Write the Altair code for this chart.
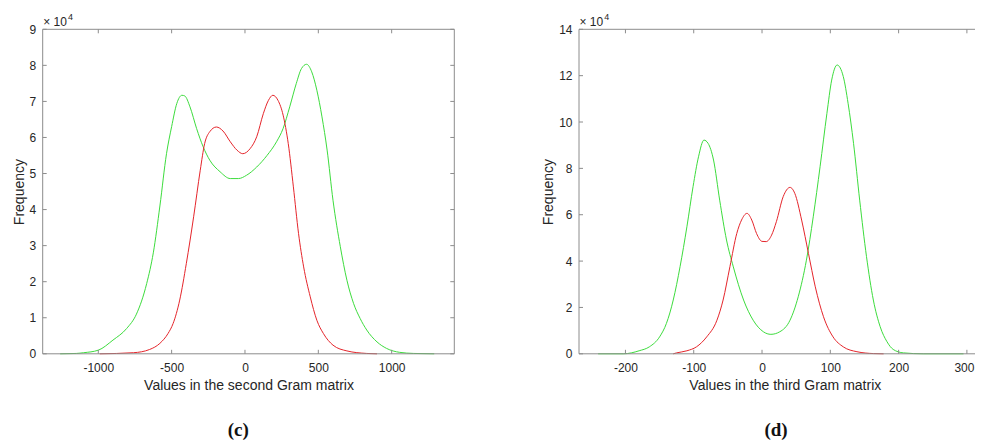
import altair as alt
import pandas as pd

# ---------------- data (frequency in units of 10^4) ----------------
# Panel (c): values in the second Gram matrix
c_green_x = [-1260, -1150, -1100, -1000, -900, -807, -740, -670, -625, -580, -535, -500, -465,
             -430, -410, -375, -330, -285, -240, -170, -100, -45, 10, 80, 150, 215, 260, 305,
             350, 385, 420, 455, 490, 525, 560, 600, 650, 695, 740, 785, 830, 900, 965, 1055,
             1150, 1290]
c_green_y = [0, 0.01, 0.03, 0.1, 0.38, 0.7, 1.1, 1.95, 2.8, 4.1, 5.55, 6.3, 6.94,
             7.17, 7.15, 6.85, 6.25, 5.74, 5.37, 5.05, 4.86, 4.86, 4.95, 5.18, 5.5, 5.88, 6.25, 6.85,
             7.5, 7.91, 8.03, 7.82, 7.31, 6.57, 5.65, 4.26, 2.97, 2.04, 1.4, 0.98, 0.66, 0.33, 0.15, 0.04,
             0.01, 0]
c_red_x = [-990, -760, -650, -580, -525, -490, -445, -400, -350, -305, -275, -240, -195, -150,
           -100, -55, -15, 35, 80, 125, 160, 190, 225, 260, 295, 330, 365, 400, 445, 490, 535,
           600, 695, 830, 900]
c_red_y = [0, 0.03, 0.12, 0.29, 0.56, 0.84, 1.49, 2.5, 3.8, 5.09, 5.83, 6.16, 6.29, 6.18,
           5.88, 5.65, 5.55, 5.69, 6.02, 6.66, 7.03, 7.17, 7.03, 6.62, 5.83, 4.63, 3.34, 2.41, 1.58, 0.93, 0.56,
           0.24, 0.08, 0.01, 0]

# Panel (d): values in the third Gram matrix
d_green_x = [-240, -203, -180, -165, -150, -140, -130, -120, -110, -101, -93, -85, -79, -71,
             -62, -52, -42, -27, -13, 2, 13, 26, 41, 53, 65, 75, 85, 95, 102, 110, 119, 126,
             134, 143, 153, 163, 173, 183, 192, 207, 236, 295]
d_green_y = [0, 0, 0.13, 0.3, 0.73, 1.31, 2.32, 3.76, 5.48, 7.21, 8.5, 9.22, 9.08, 8.36,
             6.63, 4.91, 3.75, 2.32, 1.45, 0.95, 0.84, 0.95, 1.45, 2.46, 4.04, 5.91, 8.07, 10.37, 11.81, 12.46, 11.96, 10.81,
             9.08, 6.63, 4.19, 2.32, 1.17, 0.52, 0.19, 0.04, 0, 0]
d_red_x = [-130, -125, -110, -96, -81, -66, -57, -47, -37, -30, -22, -15, -8, 0, 6, 14, 21,
           31, 41, 48, 58, 68, 78, 90, 104, 119, 139, 163, 178]
d_red_y = [0, 0.04, 0.13, 0.3, 0.73, 1.45, 2.32, 3.76, 5.19, 5.77, 6.06, 5.77, 5.19, 4.85, 4.84, 5.12, 5.7,
           6.78, 7.18, 6.92, 5.77, 4.33, 2.89, 1.6, 0.73, 0.3, 0.09, 0.01, 0]

c_xticks = [-1000, -500, 0, 500, 1000]
c_yticks = list(range(0, 10))
d_xticks = [-200, -100, 0, 100, 200, 300]
d_yticks = list(range(0, 15, 2))

FONT = "Liberation Sans"
TXT = "#262626"
FRAME = "#8c8c8c"
GREEN = "#3ddc3d"
RED = "#e5252b"

PW = 411.6          # width of one plot box
H = 324.5           # height of the plot boxes
D_LEFT = 536.3      # left edge of panel (d) relative to panel (c)
VIEW_W = 932.3      # visible width (panel d is cut at the page edge)


def panel(gx, gy, rx, ry, xdom, ydom, xticks, yticks, xtitle, caption, x0, caption_x,
          last_shift=0):
    one = pd.DataFrame({"k": [0]})
    green = pd.DataFrame({"x": gx, "y": gy})
    red = pd.DataFrame({"x": rx, "y": ry})
    xs = alt.Scale(domain=xdom, range=[x0, x0 + PW], nice=False, zero=False)
    ys = alt.Scale(domain=ydom, nice=False, zero=False)
    last = xticks[-1]
    xaxis = alt.Axis(values=xticks, orient="bottom", ticks=False, tickSize=0, domain=False,
                     grid=False, labelFont=FONT, labelFontSize=12, labelColor=TXT,
                     labelPadding=9, labelFlush=False, labelOverlap=False,
                     labelExpr="datum.value + ''",
                     labelOffset={"expr": f"datum.value == {last} ? {last_shift} : 0"},
                     title=xtitle, titleFont=FONT, titleFontSize=14, titleFontWeight="normal",
                     titleColor=TXT, titlePadding=5, titleX=x0 + PW / 2)
    yaxis = alt.Axis(values=yticks, orient="left", offset=-x0, ticks=False, tickSize=0,
                     domain=False, grid=False, labelFont=FONT, labelFontSize=12,
                     labelColor=TXT, labelPadding=7, labelFlush=False, labelOverlap=False,
                     labelExpr="datum.value + ''",
                     title="Frequency", titleFont=FONT, titleFontSize=14,
                     titleFontWeight="normal", titleColor=TXT, titlePadding=3)

    def X(f):
        return alt.X(f, scale=xs, axis=xaxis)

    def Y(f):
        return alt.Y(f, scale=ys, axis=yaxis)

    g = alt.Chart(green).mark_line(color=GREEN, strokeWidth=1, interpolate="monotone").encode(
        x=X("x:Q"), y=Y("y:Q"))
    r = alt.Chart(red).mark_line(color=RED, strokeWidth=1, interpolate="monotone").encode(
        x=X("x:Q"), y=Y("y:Q"))

    xt = pd.DataFrame({"x": xticks})
    yt = pd.DataFrame({"y": yticks})
    rule = dict(color=FRAME, strokeWidth=1)
    layers = [
        g, r,
        alt.Chart(xt).mark_rule(**rule).encode(x=X("x:Q"), y=alt.value(H - 4), y2=alt.value(H)),
        alt.Chart(xt).mark_rule(**rule).encode(x=X("x:Q"), y=alt.value(0), y2=alt.value(4)),
        alt.Chart(yt).mark_rule(**rule).encode(y=Y("y:Q"), x=alt.value(x0), x2=alt.value(x0 + 4)),
        alt.Chart(yt).mark_rule(**rule).encode(y=Y("y:Q"), x=alt.value(x0 + PW - 4),
                                                x2=alt.value(x0 + PW)),
    ]
    fr = alt.Chart(one).mark_rule(**rule)
    layers += [
        fr.encode(x=alt.value(x0), x2=alt.value(x0 + PW), y=alt.value(0)),
        fr.encode(x=alt.value(x0), x2=alt.value(x0 + PW), y=alt.value(H)),
        fr.encode(x=alt.value(x0), y=alt.value(0), y2=alt.value(H)),
        fr.encode(x=alt.value(x0 + PW), y=alt.value(0), y2=alt.value(H)),
    ]

    def txt(s, x, y, size, **kw):
        return alt.Chart(one).mark_text(text=s, align="left", baseline="alphabetic",
                                        font=FONT, fontSize=size, color=TXT, **kw).encode(
            x=alt.value(x), y=alt.value(y))

    layers += [
        txt("×", x0 + 0.6, -3.3, 12),
        txt("10", x0 + 10.8, -3.3, 12),
        txt("4", x0 + 25.3, -9.3, 9),
        alt.Chart(one).mark_text(text=caption, align="center", baseline="alphabetic",
                                 font="Liberation Serif", fontWeight="bold",
                                 fontSize=19, color="#111111").encode(
            x=alt.value(caption_x), y=alt.value(406.5)),
    ]
    return alt.layer(*layers)


left = panel(c_green_x, c_green_y, c_red_x, c_red_y, [-1379, 1427], [0, 9], c_xticks, c_yticks,
             "Values in the second Gram matrix", "(c)", 0, 195.6)
right = panel(d_green_x, d_green_y, d_red_x, d_red_y, [-268, 334.7], [0, 14], d_xticks, d_yticks,
              "Values in the third Gram matrix", "(d)", D_LEFT, 733.3, last_shift=-3)

chart = alt.layer(left, right).resolve_scale(
    x="independent", y="independent"
).resolve_axis(
    x="independent", y="independent"
).properties(
    width=VIEW_W, height=H,
    autosize=alt.AutoSizeParams(type="none"),
    padding={"left": 34.7, "top": 21.3, "right": 0, "bottom": 89.2},
    background="white",
).configure_view(stroke=None)

chart.save("out.html", embed_options={"renderer": "svg", "actions": False})
